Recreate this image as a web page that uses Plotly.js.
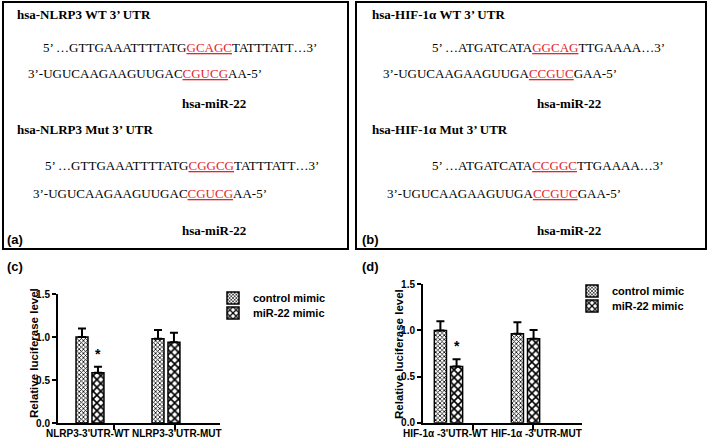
<!DOCTYPE html>
<html><head><meta charset="utf-8">
<script src="https://cdn.plot.ly/plotly-3.0.1.min.js"></script>
<style>html,body{margin:0;padding:0;background:#fff}#chart{width:709px;height:440px}</style>
</head><body><div id="chart"></div>
<script>
// ---- data ----
const groupsC = ["NLRP3-3'UTR-WT", "NLRP3-3'UTR-MUT"];
const groupsD = ["HIF-1\u03b1 -3'UTR-WT", "HIF-1\u03b1 -3'UTR-MUT"];
const seriesNames = ["control mimic", "miR-22 mimic"];
const controlC = [1.00, 0.98];
const controlErrC = [0.10, 0.10];
const mirC = [0.585, 0.94];
const mirErrC = [0.07, 0.11];
const controlD = [1.00, 0.965];
const controlErrD = [0.10, 0.125];
const mirD = [0.61, 0.91];
const mirErrD = [0.077, 0.095];
const yTicks = [0, 0.5, 1.0, 1.5];
const yTitle = "Relative luciferase level";
const panelLabels = ["(a)", "(b)", "(c)", "(d)"];
const headersA = ["hsa-NLRP3 WT 3\u2019 UTR", "hsa-NLRP3 Mut 3\u2019 UTR"];
const headersB = ["hsa-HIF-1\u03b1 WT 3\u2019 UTR", "hsa-HIF-1\u03b1 Mut 3\u2019 UTR"];
const mirName = "hsa-miR-22";
// sequences: [before, site, after]
const seqA = [
  ["5\u2019 \u2026GTTGAAATTTTATG", "GCAGC", "TATTTATT\u20263\u2019"],
  ["3\u2019-UGUCAAGAAGUUGAC", "CGUCG", "AA-5\u2019"],
  ["5\u2019 \u2026GTTGAAATTTTATG", "CGGCG", "TATTTATT\u20263\u2019"],
  ["3\u2019-UGUCAAGAAGUUGAC", "CGUCG", "AA-5\u2019"]
];
const seqB = [
  ["5\u2019 \u2026ATGATCATA", "GGCAG", "TTGAAAA\u20263\u2019"],
  ["3\u2019-UGUCAAGAAGUUGA", "CCGUC", "GAA-5\u2019"],
  ["5\u2019 \u2026ATGATCATA", "CCGGC", "TTGAAAA\u20263\u2019"],
  ["3\u2019-UGUCAAGAAGUUGA", "CCGUC", "GAA-5\u2019"]
];

// ---- helpers ----
const W = 709, H = 440;
const px = x => x / W;
const py = y => 1 - y / H;
const RED = '#e3262c';
const serif = '"Liberation Serif", "Times New Roman", serif';
const sans = '"Liberation Sans", Arial, sans-serif';
const seqHtml = s => s[0] + '<span style="color:' + RED + ';text-decoration:underline">' + s[1] + '</span>' + s[2];

const patCtrl = {shape: 'x', size: 3, solidity: 0.45, fgcolor: '#000', bgcolor: '#fff'};
const patMir = {shape: 'x', size: 5.5, solidity: 0.5, fgcolor: '#000', bgcolor: '#fff'};
const lineMk = {color: '#000', width: 1.5};
const errStyle = (arr) => ({type: 'data', array: arr, arrayminus: arr.map(() => 0), symmetric: false, color: '#000', thickness: 2, width: 4});

const xIdx = [0, 1];
const traces = [
  {type: 'bar', name: seriesNames[0], x: xIdx, y: controlC, error_y: errStyle(controlErrC), marker: {color: '#fff', line: lineMk, pattern: patCtrl}, xaxis: 'x', yaxis: 'y', legend: 'legend', showlegend: true, hoverinfo: 'skip'},
  {type: 'bar', name: seriesNames[1], x: xIdx, y: mirC, error_y: errStyle(mirErrC), marker: {color: '#fff', line: lineMk, pattern: patMir}, xaxis: 'x', yaxis: 'y', legend: 'legend2', showlegend: true, hoverinfo: 'skip'},
  {type: 'bar', name: seriesNames[0], x: xIdx, y: controlD, error_y: errStyle(controlErrD), marker: {color: '#fff', line: lineMk, pattern: patCtrl}, xaxis: 'x2', yaxis: 'y2', legend: 'legend3', showlegend: true, hoverinfo: 'skip'},
  {type: 'bar', name: seriesNames[1], x: xIdx, y: mirD, error_y: errStyle(mirErrD), marker: {color: '#fff', line: lineMk, pattern: patMir}, xaxis: 'x2', yaxis: 'y2', legend: 'legend4', showlegend: true, hoverinfo: 'skip'}
];

const axFont = {family: sans, size: 10, color: '#000', weight: 'bold'};
const yax = (dom) => ({domain: dom, range: [0, 1.5], tickvals: yTicks, tickformat: '.1f', ticks: 'outside', ticklen: 4, tickwidth: 2, tickcolor: '#000', showline: true, linewidth: 2, linecolor: '#000', showgrid: false, zeroline: false, tickfont: axFont, fixedrange: true});
const xax = (dom, rng, sep) => ({domain: dom, range: rng, tickvals: sep, ticktext: sep.map(() => ''), ticks: 'outside', ticklen: 5, tickwidth: 2, tickcolor: '#000', showline: true, linewidth: 2, linecolor: '#000', showgrid: false, zeroline: false, fixedrange: true});

const legFont = {family: sans, size: 11, color: '#000', weight: 'bold'};
const leg = (x, y) => ({x: px(x), y: py(y), xanchor: 'left', yanchor: 'middle', font: legFont, bgcolor: 'rgba(0,0,0,0)', borderwidth: 0});

const ann = [];
// top panel text
const addText = (x, y, text, font) => ann.push({xref: 'paper', yref: 'paper', x: px(x - 2), y: py(y), xanchor: 'left', yanchor: 'middle', text: text, showarrow: false, font: font});
const bold13 = {family: serif, size: 13, color: '#000', weight: 'bold'};
const reg13 = {family: serif, size: 13, color: '#000'};
const lab13 = {family: sans, size: 13, color: '#000', weight: 'bold'};
addText(17, 15, headersA[0], bold13);
addText(43, 47, seqHtml(seqA[0]), reg13);
addText(28, 73, seqHtml(seqA[1]), reg13);
addText(182, 103, mirName, bold13);
addText(17, 130, headersA[1], bold13);
addText(45, 165, seqHtml(seqA[2]), reg13);
addText(33, 193, seqHtml(seqA[3]), reg13);
addText(182, 230, mirName, bold13);
addText(7, 239, panelLabels[0], lab13);
addText(372, 15, headersB[0], bold13);
addText(432, 47, seqHtml(seqB[0]), reg13);
addText(383, 73, seqHtml(seqB[1]), reg13);
addText(537, 103, mirName, bold13);
addText(372, 130, headersB[1], bold13);
addText(432, 165, seqHtml(seqB[2]), reg13);
addText(387, 193, seqHtml(seqB[3]), reg13);
addText(537, 230, mirName, bold13);
addText(362, 239, panelLabels[1], lab13);
addText(7, 266, panelLabels[2], lab13);
addText(362, 266, panelLabels[3], lab13);

// y titles
const ytFont = {family: sans, size: 11.5, color: '#000', weight: 'bold'};
ann.push({xref: 'paper', yref: 'paper', x: px(34), y: py(353), text: yTitle, textangle: -90, showarrow: false, font: ytFont, xanchor: 'center', yanchor: 'middle'});
ann.push({xref: 'paper', yref: 'paper', x: px(399), y: py(354), text: yTitle, textangle: -90, showarrow: false, font: ytFont, xanchor: 'center', yanchor: 'middle'});

// x category labels
const xlFont = {family: sans, size: 10, color: '#000', weight: 'bold'};
const labOffC = [-0.03, 1.15];
const labOffD = [-0.04, 1.14];
groupsC.forEach((g, i) => ann.push({xref: 'x', yref: 'paper', x: labOffC[i], y: py(426), yanchor: 'top', text: g, showarrow: false, font: xlFont}));
groupsD.forEach((g, i) => ann.push({xref: 'x2', yref: 'paper', x: labOffD[i], y: py(426), yanchor: 'top', text: g, showarrow: false, font: xlFont}));

// significance stars above miR-22 WT bars
const starFont = {family: sans, size: 14, color: '#000', weight: 'bold'};
ann.push({xref: 'x', yref: 'y', x: 0.105, y: mirC[0] + mirErrC[0], yanchor: 'bottom', yshift: 3, text: '*', showarrow: false, font: starFont});
ann.push({xref: 'x2', yref: 'y2', x: 0.105, y: mirD[0] + mirErrD[0], yanchor: 'bottom', yshift: 3, text: '*', showarrow: false, font: starFont});

const boxLine = {color: '#000', width: 2};
const shapes = [
  {type: 'rect', xref: 'paper', yref: 'paper', x0: px(3), x1: px(348), y0: py(2), y1: py(249), line: boxLine},
  {type: 'rect', xref: 'paper', yref: 'paper', x0: px(356), x1: px(706), y0: py(2), y1: py(249), line: boxLine}
];

const layout = {
  width: W, height: H,
  showlegend: true,
  margin: {l: 0, r: 0, t: 0, b: 0},
  paper_bgcolor: '#fff', plot_bgcolor: 'rgba(0,0,0,0)',
  barmode: 'group', bargap: 0.58, bargroupgap: 0.25,
  xaxis: xax([px(58), px(220)], [-0.421, 1.711], [0.316, 1.118]),
  yaxis: yax([py(423), py(294)]),
  xaxis2: xax([px(423), px(582)], [-0.331, 1.734], [0.312, 1.097]),
  yaxis2: Object.assign(yax([py(422.7), py(284.3)]), {anchor: 'x2'}),
  legend: leg(213, 298),
  legend2: leg(213, 313),
  legend3: leg(572, 291),
  legend4: leg(572, 306),
  annotations: ann,
  shapes: shapes
};
layout.xaxis.anchor = 'y';
layout.yaxis.anchor = 'x';
layout.xaxis2.anchor = 'y2';

Plotly.newPlot('chart', traces, layout, {displayModeBar: false, staticPlot: true});
</script></body></html>
